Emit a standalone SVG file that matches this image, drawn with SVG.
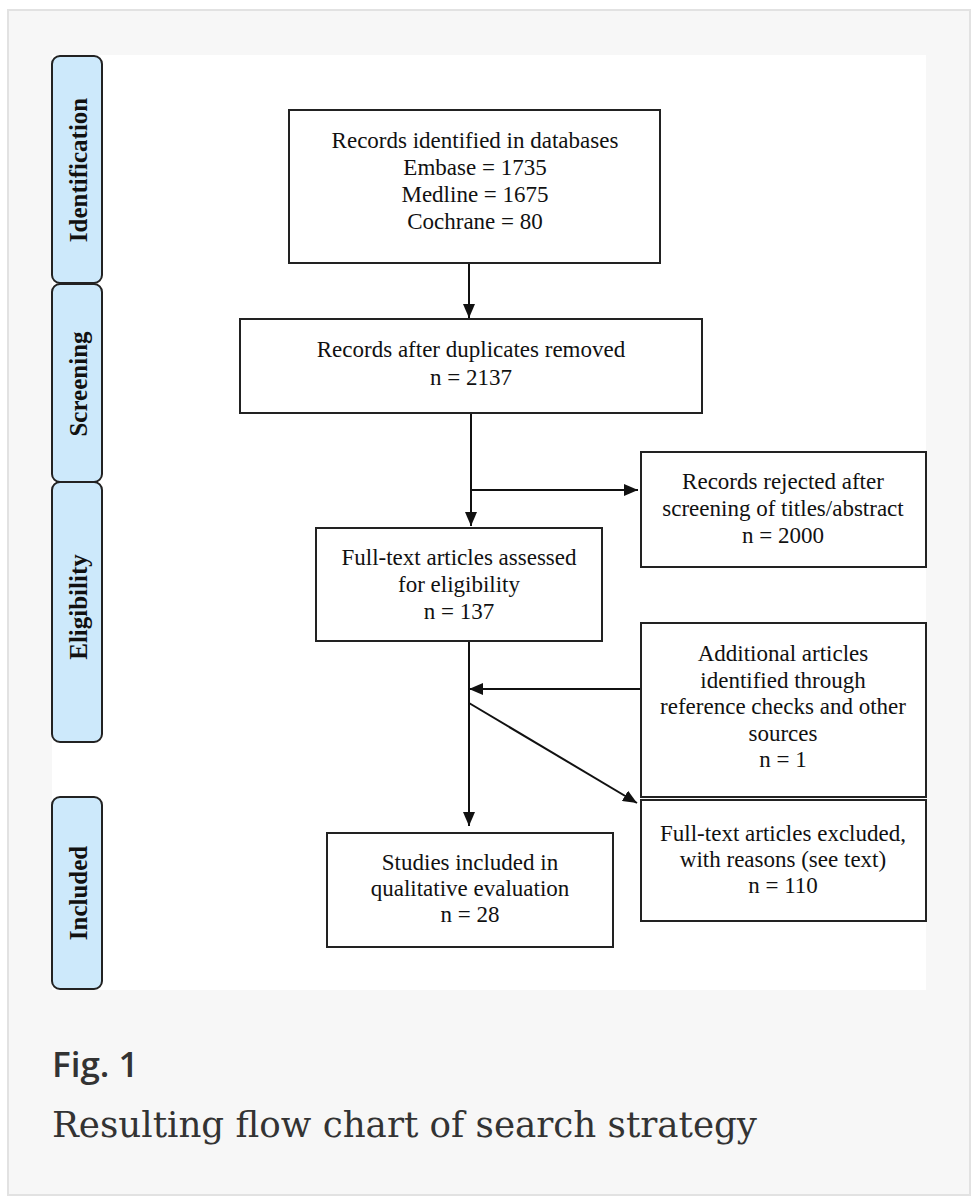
<svg xmlns="http://www.w3.org/2000/svg" width="979" height="1200" viewBox="0 0 979 1200">
<defs>
<style>
.box{fill:#fff;stroke:#222;stroke-width:2}
.tab{fill:#cde9fb;stroke:#222;stroke-width:2}
.t{font-family:"Liberation Serif","Times New Roman",serif;font-size:23px;fill:#111;text-anchor:middle}
.ph{font-family:"Liberation Serif","Times New Roman",serif;font-size:25px;font-weight:bold;fill:#111;text-anchor:middle;dominant-baseline:central}
.ln{fill:none;stroke:#111;stroke-width:2}
</style>
<marker id="ah" viewBox="0 0 14 12" refX="14" refY="6" markerWidth="14" markerHeight="12" markerUnits="userSpaceOnUse" orient="auto">
<path d="M0,0 L14,6 L0,12 Z" fill="#111"/>
</marker>
</defs>
<rect x="0" y="0" width="979" height="1200" fill="#fff"/>
<rect x="8" y="10" width="962" height="1185" fill="#f7f7f7" stroke="#e2e2e2" stroke-width="2"/>
<rect x="52" y="55" width="874" height="935" fill="#fff"/>

<g id="phase-identification"><rect class="tab" x="52" y="56" width="50" height="227" rx="8"/><text class="ph" transform="translate(78,170) rotate(-90)">Identification</text></g>
<g id="phase-screening"><rect class="tab" x="52" y="284" width="50" height="198" rx="8"/><text class="ph" transform="translate(78,384) rotate(-90)">Screening</text></g>
<g id="phase-eligibility"><rect class="tab" x="52" y="482" width="50" height="260" rx="8"/><text class="ph" transform="translate(78,607) rotate(-90)">Eligibility</text></g>
<g id="phase-included"><rect class="tab" x="52" y="797" width="50" height="192" rx="8"/><text class="ph" transform="translate(78,893) rotate(-90)">Included</text></g>

<g id="connectors">
<line class="ln" x1="469" y1="263" x2="469" y2="318" marker-end="url(#ah)"/>
<line class="ln" x1="471" y1="413" x2="471" y2="526" marker-end="url(#ah)"/>
<line class="ln" x1="470" y1="490" x2="638" y2="490" marker-end="url(#ah)"/>
<line class="ln" x1="469" y1="641" x2="469" y2="826" marker-end="url(#ah)"/>
<line class="ln" x1="641" y1="689" x2="469" y2="689" marker-end="url(#ah)"/>
<line class="ln" x1="469" y1="703" x2="637" y2="803" marker-end="url(#ah)"/>
</g>

<g id="n-identified"><rect class="box" x="289" y="110" width="371" height="153"/>
<text class="t" x="475" y="148">Records identified in databases</text>
<text class="t" x="475" y="175">Embase = 1735</text>
<text class="t" x="475" y="202">Medline = 1675</text>
<text class="t" x="475" y="229">Cochrane = 80</text></g>

<g id="n-duplicates"><rect class="box" x="240" y="319" width="462" height="94"/>
<text class="t" x="471" y="357">Records after duplicates removed</text>
<text class="t" x="471" y="385">n = 2137</text></g>

<g id="n-rejected"><rect class="box" x="641" y="452" width="285" height="115"/>
<text class="t" x="783" y="489">Records rejected after</text>
<text class="t" x="783" y="516">screening of titles/abstract</text>
<text class="t" x="783" y="543">n = 2000</text></g>

<g id="n-assessed"><rect class="box" x="316" y="528" width="286" height="113"/>
<text class="t" x="459" y="565">Full-text articles assessed</text>
<text class="t" x="459" y="592">for eligibility</text>
<text class="t" x="459" y="619">n = 137</text></g>

<g id="n-additional"><rect class="box" x="641" y="623" width="285" height="174"/>
<text class="t" x="783" y="661">Additional articles</text>
<text class="t" x="783" y="688">identified through</text>
<text class="t" x="783" y="714">reference checks and other</text>
<text class="t" x="783" y="741">sources</text>
<text class="t" x="783" y="767">n = 1</text></g>

<g id="n-excluded"><rect class="box" x="641" y="800" width="285" height="121"/>
<text class="t" x="783" y="841">Full-text articles excluded,</text>
<text class="t" x="783" y="867">with reasons (see text)</text>
<text class="t" x="783" y="893">n = 110</text></g>

<g id="n-included"><rect class="box" x="327" y="833" width="286" height="114"/>
<text class="t" x="470" y="870">Studies included in</text>
<text class="t" x="470" y="896">qualitative evaluation</text>
<text class="t" x="470" y="922">n = 28</text></g>

<text x="52" y="1077" font-family="'Open Sans','Noto Sans',sans-serif" font-size="35" font-weight="600" fill="#333">Fig. 1</text>
<text x="52" y="1137" font-family="'DejaVu Serif',serif" font-size="35" textLength="705" lengthAdjust="spacingAndGlyphs" fill="#333">Resulting flow chart of search strategy</text>
</svg>
